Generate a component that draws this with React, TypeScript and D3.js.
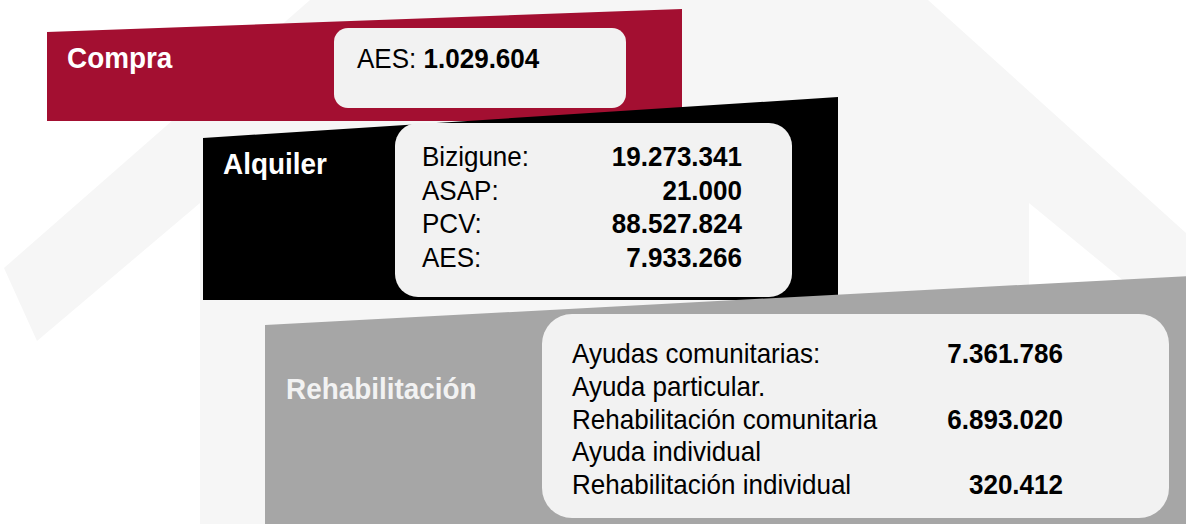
import React from "react";
import * as d3 from "d3";

// ---- Data ----
const categories = ["Compra", "Alquiler", "Rehabilitación"];
const compraLabels = ["AES:"];
const compraValues = [1029604];
const alquilerLabels = ["Bizigune:", "ASAP:", "PCV:", "AES:"];
const alquilerValues = [19273341, 21000, 88527824, 7933266];
const rehabLabels = [
  "Ayudas comunitarias:",
  "Ayuda particular.",
  "Rehabilitación comunitaria",
  "Ayuda individual",
  "Rehabilitación individual",
];
const rehabValues: (number | null)[] = [7361786, null, 6893020, null, 320412];

// ---- Layout / style ----
const W = 1186;
const H = 524;
const FONT = "'Liberation Sans', Arial, Helvetica, sans-serif";
const C_BG = "#f6f6f6";
const C_RED = "#a30f31";
const C_BLACK = "#000000";
const C_GREY = "#a6a6a6";
const C_BOX = "#f2f2f2";
const SX = 0.93;

const locale = d3.formatLocale({
  decimal: ",",
  thousands: ".",
  grouping: [3],
  currency: ["", " €"],
});
const fmt = locale.format(",d");

const line = d3.line<[number, number]>().curve(d3.curveLinearClosed);

function T(props: {
  x: number;
  y: number;
  size: number;
  bold?: boolean;
  anchor?: string;
  fill?: string;
  children: React.ReactNode;
}) {
  return (
    <text
      transform={`translate(${props.x},${props.y}) scale(${SX},1)`}
      fontSize={props.size}
      fontWeight={props.bold ? "bold" : "normal"}
      textAnchor={props.anchor || "start"}
      fill={props.fill || "#000"}
    >
      {props.children}
    </text>
  );
}

export default function App() {
  const house: [number, number][] = [
    [4, 268],
    [310, 0],
    [928, 0],
    [1186, 233],
    [1186, 332],
    [1029, 203],
    [1029, H],
    [200, H],
    [200, 203],
    [37, 341],
  ];
  const redPanel: [number, number][] = [
    [47, 32],
    [682, 9],
    [682, 121],
    [47, 121],
  ];
  const blackPanel: [number, number][] = [
    [203, 138],
    [838, 97],
    [838, 300],
    [203, 300],
  ];
  const greyPanel: [number, number][] = [
    [265, 325],
    [1190, 276],
    [1190, H + 5],
    [265, H + 5],
  ];

  const yAlq = d3
    .scalePoint<number>()
    .domain(d3.range(alquilerLabels.length))
    .range([166, 267]);
  const yReh = d3
    .scalePoint<number>()
    .domain(d3.range(rehabLabels.length))
    .range([363, 494]);

  return (
    <svg
      width={W}
      height={H}
      style={{ position: "absolute", left: 0, top: 0, background: "#ffffff" }}
      fontFamily={FONT}
    >
      <path d={line(house) || ""} fill={C_BG} />

      {/* Compra */}
      <path d={line(redPanel) || ""} fill={C_RED} />
      <rect x={334} y={28} width={292} height={80} rx={14} fill={C_BOX} />
      <T x={67} y={68} size={30} bold fill="#ffffff">
        {categories[0]}
      </T>
      {compraLabels.map((l, i) => (
        <T key={l} x={357} y={68} size={28}>
          {l + " "}
          <tspan fontWeight="bold">{fmt(compraValues[i])}</tspan>
        </T>
      ))}

      {/* Alquiler */}
      <path d={line(blackPanel) || ""} fill={C_BLACK} />
      <rect x={395} y={123} width={397} height={174} rx={23} fill={C_BOX} />
      <T x={223} y={174} size={30} bold fill="#ffffff">
        {categories[1]}
      </T>
      {alquilerLabels.map((l, i) => (
        <g key={l + i}>
          <T x={422} y={yAlq(i) as number} size={28}>
            {l}
          </T>
          <T x={742} y={yAlq(i) as number} size={28} bold anchor="end">
            {fmt(alquilerValues[i])}
          </T>
        </g>
      ))}

      {/* Rehabilitación */}
      <path d={line(greyPanel) || ""} fill={C_GREY} />
      <rect x={542} y={314} width={627} height={204} rx={30} fill={C_BOX} />
      <T x={286} y={399} size={30} bold fill="#f2f2f2">
        {categories[2]}
      </T>
      {rehabLabels.map((l, i) => (
        <g key={l + i}>
          <T x={572} y={yReh(i) as number} size={28}>
            {l}
          </T>
          {rehabValues[i] != null && (
            <T x={1063} y={yReh(i) as number} size={28} bold anchor="end">
              {fmt(rehabValues[i] as number)}
            </T>
          )}
        </g>
      ))}
    </svg>
  );
}
